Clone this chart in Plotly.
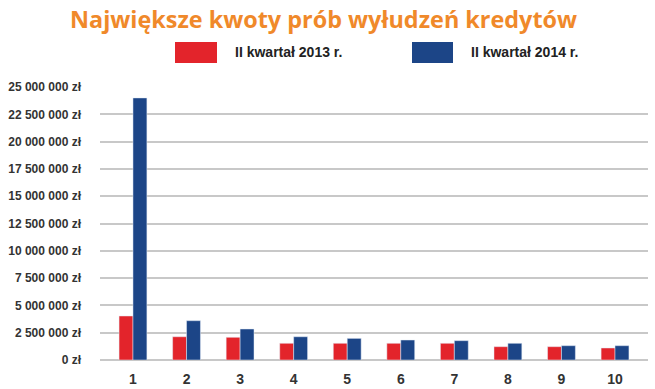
import plotly.graph_objects as go

categories = ["1", "2", "3", "4", "5", "6", "7", "8", "9", "10"]
series_2013 = [4030000, 2130000, 2080000, 1530000, 1530000, 1530000, 1530000, 1220000, 1220000, 1100000]
series_2014 = [24000000, 3600000, 2840000, 2130000, 1980000, 1830000, 1770000, 1530000, 1310000, 1310000]
name_2013 = "II kwartał 2013 r."
name_2014 = "II kwartał 2014 r."
tick_values = [0, 2500000, 5000000, 7500000, 10000000, 12500000, 15000000, 17500000, 20000000, 22500000, 25000000]
tick_labels = [("{:,}".format(v).replace(",", " ") + " zł") for v in tick_values]
title_text = "Największe kwoty prób wyłudzeń kredytów"

RED = "#E3242B"
BLUE = "#1C4587"

W, H = 655, 389
ML, MR, MT, MB = 100, 7, 87, 29
PW, PH = W - ML - MR, H - MT - MB

def px(x):
    return (x - ML) / PW

def py(y):
    return (H - MB - y) / PH

fig = go.Figure()
fig.add_trace(go.Bar(x=list(range(1, 11)), y=series_2013, name=name_2013, marker_color=RED))
fig.add_trace(go.Bar(x=list(range(1, 11)), y=series_2014, name=name_2014, marker_color=BLUE))

# legend drawn manually (big swatches)
shapes = [
    dict(type="rect", xref="paper", yref="paper", x0=px(175), x1=px(217), y0=py(63), y1=py(42),
         fillcolor=RED, line=dict(width=0)),
    dict(type="rect", xref="paper", yref="paper", x0=px(412), x1=px(453), y0=py(63), y1=py(42),
         fillcolor=BLUE, line=dict(width=0)),
]
legend_font = dict(family="Liberation Sans, Arial", size=14, color="#222222")
annotations = [
    dict(text="<b>" + title_text + "</b>", xref="paper", yref="paper", x=px(323), y=py(19),
         xanchor="center", yanchor="middle", showarrow=False,
         font=dict(family="Open Sans, sans-serif", size=23.4, color="#F0892A")),
    dict(text="<b>" + name_2013 + "</b>", xref="paper", yref="paper", x=px(233), y=py(51.5),
         xanchor="left", yanchor="middle", showarrow=False, font=legend_font),
    dict(text="<b>" + name_2014 + "</b>", xref="paper", yref="paper", x=px(469), y=py(51.5),
         xanchor="left", yanchor="middle", showarrow=False, font=legend_font),
]

fig.update_layout(
    width=W, height=H,
    margin=dict(l=ML, r=MR, t=MT, b=MB, pad=0, autoexpand=False),
    paper_bgcolor="white", plot_bgcolor="white",
    barmode="group", bargap=0.48, bargroupgap=0,
    showlegend=False,
    shapes=shapes, annotations=annotations,
    xaxis=dict(range=[1 - 33 / 53.6, 10 + 33 / 53.6], tickvals=list(range(1, 11)),
               ticktext=["<b>" + c + "</b>" for c in categories],
               showgrid=False, zeroline=False, showline=False, ticks="", automargin=False,
               tickfont=dict(family="Liberation Sans, Arial", size=14, color="#333333"),
               ticklabelstandoff=9),
    yaxis=dict(range=[0, 25000000], tickvals=tick_values, ticktext=["<b>" + t + "</b>" for t in tick_labels],
               showgrid=True, gridcolor="#C8C8C8", gridwidth=1.5, zeroline=True, zerolinecolor="#C8C8C8",
               zerolinewidth=1.5, showline=False, ticks="", automargin=False,
               tickfont=dict(family="Liberation Sans, Arial", size=12, color="#333333"),
               ticklabelstandoff=18),
)

fig.write_html("out.html", config={"displayModeBar": False},
               post_script="document.body.style.margin='0';document.body.style.overflow='hidden';")
